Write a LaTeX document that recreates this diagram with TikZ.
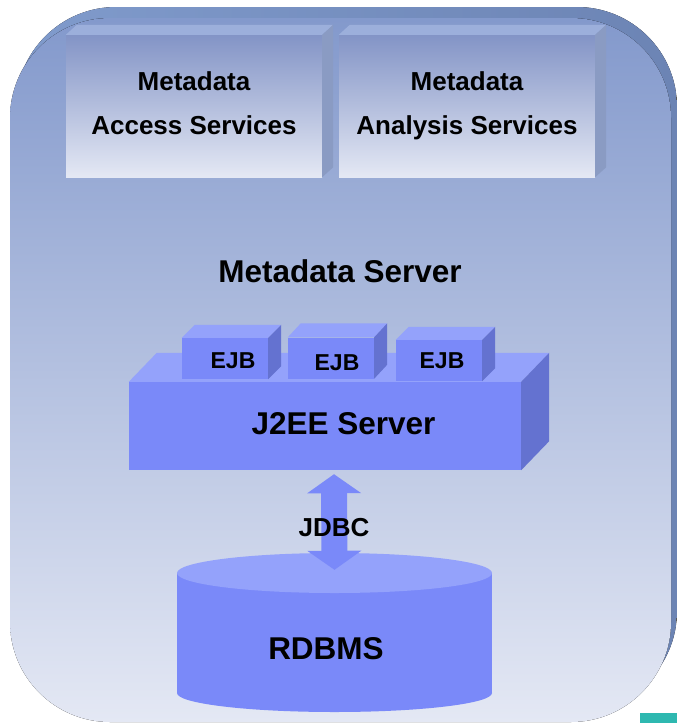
\documentclass[tikz,border=0pt]{standalone}
\usepackage{fontspec}
\setmainfont{Liberation Sans}
\usetikzlibrary{arrows.meta}

\definecolor{slabtop}{HTML}{8399CC}
\definecolor{slabbot}{HTML}{E4E8F4}
\definecolor{slabedgeL}{HTML}{809BCC}
\definecolor{slabedgeR}{HTML}{6C84B4}
\definecolor{svcfront}{HTML}{8394C6}
\definecolor{svctop}{HTML}{9CAFDB}
\definecolor{svcside}{HTML}{8A9BC3}
\definecolor{jfront}{HTML}{7A89F9}
\definecolor{jtop}{HTML}{94A2FB}
\definecolor{jside}{HTML}{6472D0}
\definecolor{accent}{HTML}{2EB8B0}

% top and side faces of a box drawn behind the front node #1
\newcommand\boxfaces[5]{%
  \fill[#4] (#1.north west) -- ++(#2,-#3) -- ([shift={(#2,-#3)}]#1.north east) -- (#1.north east) -- cycle;
  \fill[#5] (#1.north east) -- ++(#2,-#3) -- ([shift={(#2,-#3)}]#1.south east) -- (#1.south east) -- cycle;}

\tikzset{
  svcbox/.style={inner sep=0pt, minimum width=256pt, minimum height=142pt, top color=svcfront, bottom color=slabbot},
  j2eebox/.style={inner sep=0pt, fill=jfront, minimum width=392pt, minimum height=88pt},
  ejbbox/.style={inner sep=0pt, fill=jfront, minimum width=86pt, minimum height=41pt},
  lbl/.style={font=\bfseries\fontsize{26}{44}\selectfont, align=center, inner sep=0pt},
  biglbl/.style={font=\bfseries\fontsize{31.5}{36}\selectfont, inner sep=0pt},
  ejblbl/.style={font=\bfseries\fontsize{23}{26}\selectfont, inner sep=0pt},
  jdbc/.style={line width=26pt, color=jfront, {Triangle[width=53pt,length=19pt,fill=jfront]}-{Triangle[width=53pt,length=19pt,fill=jfront]}}
}

\begin{document}
\begin{tikzpicture}[x=1pt,y=-1pt]
	\useasboundingbox (0,0) rectangle (677,723);
	
	% server slab
	\fill[left color=slabedgeL, right color=slabedgeR, rounded corners=100pt] (16,7) rectangle (677,711);
	\fill[top color=slabtop, bottom color=slabbot, rounded corners=100pt] (10,18) rectangle (671,722);
	\fill[accent] (640,713) rectangle (677,723);
	
	% services
	\node[svcbox] (acc) at (194,106) {};
	\node[svcbox] (ana) at (467,106) {};
	\boxfaces{acc}{11}{10}{svctop}{svcside}
	\boxfaces{ana}{11}{10}{svctop}{svcside}
	\node[lbl] (acctxt) at (194,103) {Metadata\\Access Services};
	\node[lbl] (anatxt) at (467,106) {Metadata\\Analysis Services};
	
	\node[biglbl] (srv) at (340,271) {Metadata Server};
	
	% J2EE server and beans
	\node[j2eebox] (j2ee) at (325,426) {};
	\boxfaces{j2ee}{28}{29}{jtop}{jside}
	\node[biglbl] (j2eetxt) at (343.5,424) {J2EE Server};
	
	\node[ejbbox] (ejb1) at (225,358.5) {};
	\node[ejbbox] (ejb2) at (331,358) {};
	\node[ejbbox] (ejb3) at (439,360.5) {};
	\boxfaces{ejb1}{13}{13}{jtop}{jside}
	\boxfaces{ejb2}{13}{14}{jtop}{jside}
	\boxfaces{ejb3}{13}{13}{jtop}{jside}
	\node[ejblbl] (ejbtxt1) at (233,361) {EJB};
	\node[ejblbl] (ejbtxt2) at (337,363) {EJB};
	\node[ejblbl] (ejbtxt3) at (442,361) {EJB};
	
	% database
	\fill[jfront] (177,573) rectangle (492,693);
	\fill[jfront] (334.5,693) ellipse [x radius=157.5, y radius=19];
	\fill[jtop] (334.5,573) ellipse [x radius=157.5, y radius=20];
	\node[inner sep=0pt, minimum width=315pt, minimum height=159pt] (db) at (334.5,632.5) {};
	\node[biglbl] (dbtxt) at (326,649) {RDBMS};
	
	\draw[jdbc] ([xshift=9pt,yshift=-4pt]j2ee.south) -- ([yshift=-17pt]db.north);
	\node[lbl] (jdbctxt) at (334,528) {JDBC};
\end{tikzpicture}
\end{document}
